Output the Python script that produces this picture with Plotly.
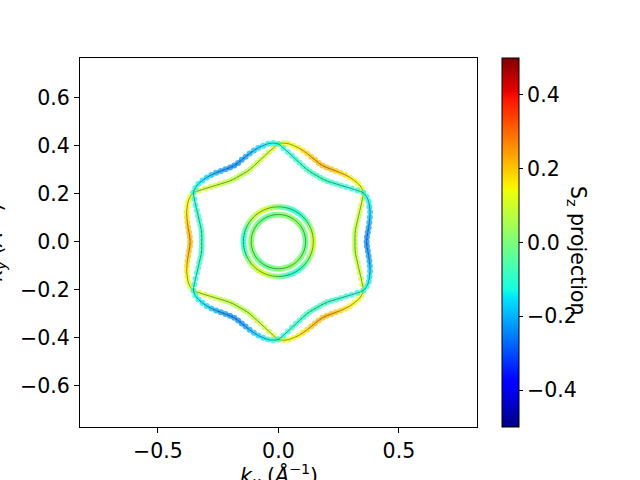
import numpy as np
import plotly.graph_objects as go

# ---------------- data ----------------
theta_band = list(range(0, 360, 3))  # degrees

r_band1 = [
    0.318, 0.318, 0.320, 0.324, 0.331, 0.340, 0.350, 0.362, 0.376, 0.391, 0.407,
    0.411, 0.410, 0.405, 0.400, 0.393, 0.386, 0.379, 0.373, 0.368, 0.366,
    0.368, 0.373, 0.379, 0.386, 0.393, 0.400, 0.405, 0.410, 0.411, 0.407,
    0.391, 0.376, 0.362, 0.350, 0.340, 0.331, 0.324, 0.320, 0.318, 0.318,
    0.318, 0.320, 0.324, 0.331, 0.340, 0.350, 0.362, 0.376, 0.391, 0.407,
    0.411, 0.410, 0.405, 0.400, 0.393, 0.386, 0.379, 0.373, 0.368, 0.366,
    0.368, 0.373, 0.379, 0.386, 0.393, 0.400, 0.405, 0.410, 0.411, 0.407,
    0.391, 0.376, 0.362, 0.350, 0.340, 0.331, 0.324, 0.320, 0.318, 0.318,
    0.318, 0.320, 0.324, 0.331, 0.340, 0.350, 0.362, 0.376, 0.391, 0.407,
    0.411, 0.410, 0.405, 0.400, 0.393, 0.386, 0.379, 0.373, 0.368, 0.366,
    0.368, 0.373, 0.379, 0.386, 0.393, 0.400, 0.405, 0.410, 0.411, 0.407,
    0.391, 0.376, 0.362, 0.350, 0.340, 0.331, 0.324, 0.320, 0.318,
]
r_band2 = [
    0.366, 0.368, 0.373, 0.379, 0.386, 0.393, 0.400, 0.405, 0.410, 0.411, 0.407,
    0.391, 0.376, 0.362, 0.350, 0.340, 0.331, 0.324, 0.320, 0.318, 0.318,
    0.318, 0.320, 0.324, 0.331, 0.340, 0.350, 0.362, 0.376, 0.391, 0.407,
    0.411, 0.410, 0.405, 0.400, 0.393, 0.386, 0.379, 0.373, 0.368, 0.366,
    0.368, 0.373, 0.379, 0.386, 0.393, 0.400, 0.405, 0.410, 0.411, 0.407,
    0.391, 0.376, 0.362, 0.350, 0.340, 0.331, 0.324, 0.320, 0.318, 0.318,
    0.318, 0.320, 0.324, 0.331, 0.340, 0.350, 0.362, 0.376, 0.391, 0.407,
    0.411, 0.410, 0.405, 0.400, 0.393, 0.386, 0.379, 0.373, 0.368, 0.366,
    0.368, 0.373, 0.379, 0.386, 0.393, 0.400, 0.405, 0.410, 0.411, 0.407,
    0.391, 0.376, 0.362, 0.350, 0.340, 0.331, 0.324, 0.320, 0.318, 0.318,
    0.318, 0.320, 0.324, 0.331, 0.340, 0.350, 0.362, 0.376, 0.391, 0.407,
    0.411, 0.410, 0.405, 0.400, 0.393, 0.386, 0.379, 0.373, 0.368,
]
sz_band1 = [
    0.070, 0.070, 0.072, 0.075, 0.080, 0.085, 0.090, 0.097, 0.105, 0.112, 0.120,
    0.127, 0.135, 0.147, 0.160, 0.175, 0.190, 0.205, 0.215, 0.220, 0.220,
    0.220, 0.215, 0.205, 0.190, 0.175, 0.160, 0.147, 0.135, 0.127, 0.120,
    0.112, 0.105, 0.097, 0.090, 0.085, 0.080, 0.075, 0.072, 0.070, 0.070,
    0.070, 0.072, 0.075, 0.080, 0.085, 0.090, 0.097, 0.105, 0.112, 0.120,
    0.127, 0.135, 0.147, 0.160, 0.175, 0.190, 0.205, 0.215, 0.220, 0.220,
    0.220, 0.215, 0.205, 0.190, 0.175, 0.160, 0.147, 0.135, 0.127, 0.120,
    0.112, 0.105, 0.097, 0.090, 0.085, 0.080, 0.075, 0.072, 0.070, 0.070,
    0.070, 0.072, 0.075, 0.080, 0.085, 0.090, 0.097, 0.105, 0.112, 0.120,
    0.127, 0.135, 0.147, 0.160, 0.175, 0.190, 0.205, 0.215, 0.220, 0.220,
    0.220, 0.215, 0.205, 0.190, 0.175, 0.160, 0.147, 0.135, 0.127, 0.120,
    0.112, 0.105, 0.097, 0.090, 0.085, 0.080, 0.075, 0.072, 0.070,
]
sz_band2 = [
    -0.240, -0.240, -0.235, -0.225, -0.210, -0.190, -0.170, -0.152, -0.138, -0.127, -0.120,
    -0.115, -0.110, -0.105, -0.100, -0.095, -0.090, -0.085, -0.082, -0.080, -0.080,
    -0.080, -0.082, -0.085, -0.090, -0.095, -0.100, -0.105, -0.110, -0.115, -0.120,
    -0.127, -0.138, -0.152, -0.170, -0.190, -0.210, -0.225, -0.235, -0.240, -0.240,
    -0.240, -0.235, -0.225, -0.210, -0.190, -0.170, -0.152, -0.138, -0.127, -0.120,
    -0.115, -0.110, -0.105, -0.100, -0.095, -0.090, -0.085, -0.082, -0.080, -0.080,
    -0.080, -0.082, -0.085, -0.090, -0.095, -0.100, -0.105, -0.110, -0.115, -0.120,
    -0.127, -0.138, -0.152, -0.170, -0.190, -0.210, -0.225, -0.235, -0.240, -0.240,
    -0.240, -0.235, -0.225, -0.210, -0.190, -0.170, -0.152, -0.138, -0.127, -0.120,
    -0.115, -0.110, -0.105, -0.100, -0.095, -0.090, -0.085, -0.082, -0.080, -0.080,
    -0.080, -0.082, -0.085, -0.090, -0.095, -0.100, -0.105, -0.110, -0.115, -0.120,
    -0.127, -0.138, -0.152, -0.170, -0.190, -0.210, -0.225, -0.235, -0.240,
]

theta_ring = list(range(0, 360, 5))
r_ring_outer = 0.145
r_ring_inner = 0.113
sz_ring_outer = [
    0.100, 0.097, 0.087, 0.071, 0.050, 0.026, 0.000, -0.026, -0.050, -0.071, -0.087, -0.097,
    -0.100, -0.097, -0.087, -0.071, -0.050, -0.026, 0.000, 0.026, 0.050, 0.071, 0.087, 0.097,
    0.100, 0.097, 0.087, 0.071, 0.050, 0.026, 0.000, -0.026, -0.050, -0.071, -0.087, -0.097,
    -0.100, -0.097, -0.087, -0.071, -0.050, -0.026, 0.000, 0.026, 0.050, 0.071, 0.087, 0.097,
    0.100, 0.097, 0.087, 0.071, 0.050, 0.026, 0.000, -0.026, -0.050, -0.071, -0.087, -0.097,
    -0.100, -0.097, -0.087, -0.071, -0.050, -0.026, 0.000, 0.026, 0.050, 0.071, 0.087, 0.097,
]
sz_ring_inner = [
    -0.020, -0.019, -0.017, -0.014, -0.010, -0.005, 0.000, 0.005, 0.010, 0.014, 0.017, 0.019,
    0.020, 0.019, 0.017, 0.014, 0.010, 0.005, 0.000, -0.005, -0.010, -0.014, -0.017, -0.019,
    -0.020, -0.019, -0.017, -0.014, -0.010, -0.005, 0.000, 0.005, 0.010, 0.014, 0.017, 0.019,
    0.020, 0.019, 0.017, 0.014, 0.010, 0.005, 0.000, -0.005, -0.010, -0.014, -0.017, -0.019,
    -0.020, -0.019, -0.017, -0.014, -0.010, -0.005, 0.000, 0.005, 0.010, 0.014, 0.017, 0.019,
    0.020, 0.019, 0.017, 0.014, 0.010, 0.005, 0.000, -0.005, -0.010, -0.014, -0.017, -0.019,
]

x_ticks = [-0.5, 0.0, 0.5]
y_ticks = [-0.6, -0.4, -0.2, 0.0, 0.2, 0.4, 0.6]
cbar_ticks = [-0.4, -0.2, 0.0, 0.2, 0.4]
sz_range = [-0.5, 0.5]


# ---------------- helpers ----------------
def fmt(v):
    return f"{v:.1f}".replace("-", "\u2212")


def mpl_jet():
    rx, ry = [0, 0.35, 0.66, 0.89, 1], [0, 0, 1, 1, 0.5]
    gx, gy = [0, 0.125, 0.375, 0.64, 0.91, 1], [0, 0, 1, 1, 0, 0]
    bx, by = [0, 0.11, 0.34, 0.65, 1], [0.5, 1, 1, 0, 0]
    stops = sorted(set(rx + gx + bx))
    cs = []
    for s in stops:
        r = np.interp(s, rx, ry)
        g = np.interp(s, gx, gy)
        b = np.interp(s, bx, by)
        cs.append([s, f"rgb({int(round(r*255))},{int(round(g*255))},{int(round(b*255))})"])
    return cs


JET = mpl_jet()
FONT = "DejaVu Sans"
FS = 20.5


def polar_xy(theta_deg, r):
    t = np.deg2rad(np.asarray(theta_deg, dtype=float))
    r = np.asarray(r, dtype=float) * np.ones_like(t)
    return r * np.cos(t), r * np.sin(t)


fig = go.Figure()

curves = [
    (theta_band, r_band1, sz_band1),
    (theta_band, r_band2, sz_band2),
    (theta_ring, r_ring_outer, sz_ring_outer),
    (theta_ring, r_ring_inner, sz_ring_inner),
]

first = True
for th, rr, sz in curves:
    kx, ky = polar_xy(th, rr)
    fig.add_trace(go.Scatter(
        x=kx, y=ky, mode="markers",
        marker=dict(
            size=6, color=sz, colorscale=JET, cmin=sz_range[0], cmax=sz_range[1],
            opacity=0.75, line=dict(width=0),
            showscale=first,
            colorbar=dict(
                x=(502 - 80) / 397, xanchor="left", xref="paper",
                y=0.5, yanchor="middle", len=1.0, lenmode="fraction",
                xpad=0, ypad=0,
                thickness=17, outlinewidth=1, outlinecolor="black",
                ticks="outside", ticklen=4, tickwidth=1, tickcolor="black",
                tickvals=cbar_ticks, ticktext=[fmt(v) for v in cbar_ticks],
                tickfont=dict(family=FONT, size=FS, color="black"),
            ),
        ),
        showlegend=False, hoverinfo="skip",
    ))
    first = False
    fig.add_trace(go.Scatter(
        x=np.append(kx, kx[0]), y=np.append(ky, ky[0]), mode="lines",
        line=dict(color="rgba(0,0,0,0.5)", width=0.8, shape="spline"),
        showlegend=False, hoverinfo="skip",
    ))

fig.update_layout(
    width=640, height=480,
    margin=dict(l=80, r=163, t=58, b=53),
    paper_bgcolor="white", plot_bgcolor="white",
    font=dict(family=FONT, size=FS, color="black"),
    xaxis=dict(
        range=[-0.823, 0.824], tickvals=x_ticks, ticktext=[fmt(v) for v in x_ticks],
        showgrid=False, zeroline=False, showline=True, linecolor="black", linewidth=1,
        mirror=True, ticks="outside", ticklen=5, tickwidth=1, tickcolor="black",
        tickfont=dict(family=FONT, size=FS, color="black"),
    ),
    yaxis=dict(
        range=[-0.772, 0.765], tickvals=y_ticks, ticktext=[fmt(v) for v in y_ticks],
        showgrid=False, zeroline=False, showline=True, linecolor="black", linewidth=1,
        mirror=True, ticks="outside", ticklen=5, tickwidth=1, tickcolor="black",
        tickfont=dict(family=FONT, size=FS, color="black"),
    ),
    annotations=[
        dict(text="<i>k<sub>x</sub></i> (<i>Å</i><sup>\u22121</sup>)",
             xref="paper", yref="paper", x=0.5, y=-(459 - 427) / 369,
             xanchor="center", yanchor="top", showarrow=False,
             font=dict(family=FONT, size=FS, color="black")),
        dict(text="<i>k<sub>y</sub></i> (<i>Å</i><sup>\u22121</sup>)",
             xref="paper", yref="paper", x=(-5 - 80) / 397, y=0.5,
             xanchor="center", yanchor="middle", textangle=-90, showarrow=False,
             font=dict(family=FONT, size=FS, color="black")),
        dict(text="S<sub>z</sub> projection",
             xref="paper", yref="paper", x=(577 - 80) / 397, y=(427 - 250) / 369,
             xanchor="center", yanchor="middle", textangle=90, showarrow=False,
             font=dict(family=FONT, size=FS, color="black")),
    ],
)

fig.write_html("out.html")
